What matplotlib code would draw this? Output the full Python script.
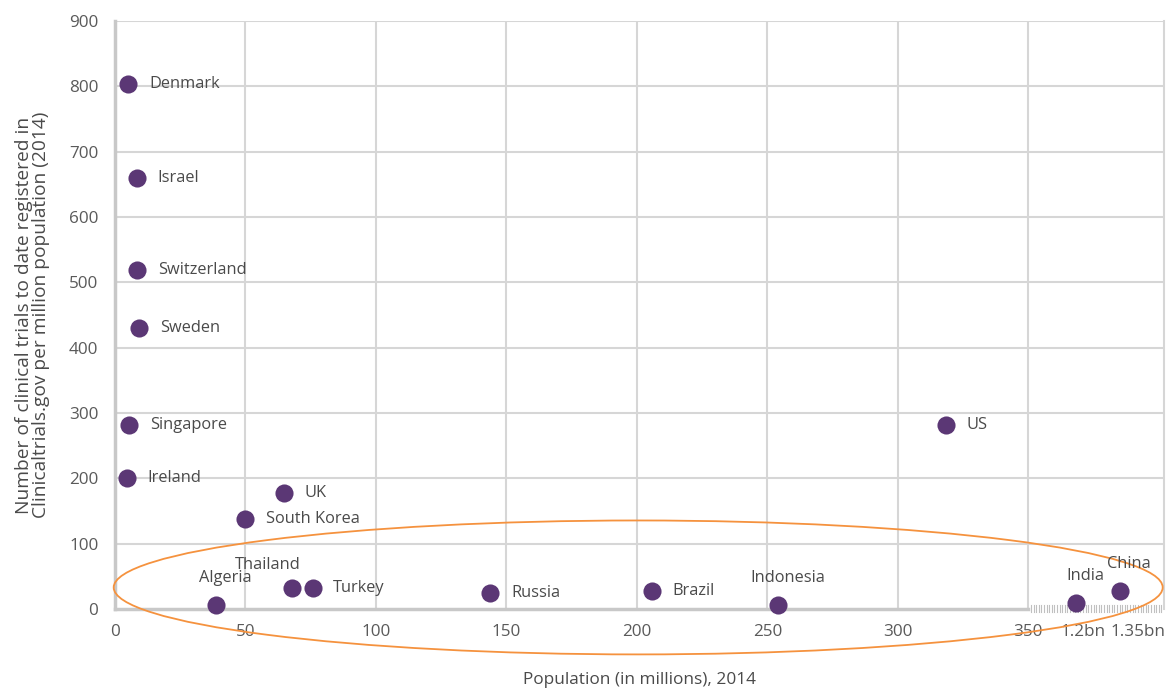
import numpy as np
import matplotlib.pyplot as plt
from matplotlib.patches import Ellipse

plt.rcParams['font.family'] = ['Open Sans', 'DejaVu Sans']

# データ（人口: 百万人, 治験数: 人口百万人あたり）
countries = ["Denmark", "Israel", "Switzerland", "Sweden", "Singapore", "Ireland",
             "UK", "South Korea", "Algeria", "Thailand", "Turkey", "Russia",
             "Brazil", "Indonesia", "US", "India", "China"]
population = [5.0, 8.4, 8.4, 9.2, 5.4, 4.6, 64.7, 49.7, 38.6, 67.7, 75.7, 143.8,
              205.8, 254, 318.3, 1180, 1300]
trials = [804, 660, 519, 430, 281, 201, 177, 137, 6, 32, 32, 24, 27, 6, 281, 9, 27]
label_pos = ["right", "right", "right", "right", "right", "right", "right", "right",
             "above", "aboveleft", "right", "right", "right", "above", "right",
             "above", "above"]

x_ticks = [0, 50, 100, 150, 200, 250, 300, 350]
bn_ticks = [1200, 1350]
bn_labels = ["1.2bn", "1.35bn"]


# 350より大きい値は圧縮した区間に配置する
def to_pos(v):
    if v <= 350:
        return v
    return 371 + (v - 1200) * 0.14


purple = "#5b3775"
grid_c = "#d6d6d6"
text_c = "#4a4a4a"

fig = plt.figure(figsize=(11.73, 6.93), dpi=100)
ax = fig.add_axes([115 / 1173, 84 / 693, (1164 - 115) / 1173, (609 - 21) / 693])
ax.set_xlim(0, 402)
ax.set_ylim(0, 900)

# グリッド
for y in range(100, 1000, 100):
    ax.axhline(y, color=grid_c, lw=1.5, zorder=1)
for x in x_ticks[1:]:
    ax.axvline(x, color=grid_c, lw=1.5, zorder=1)
ax.axvline(402, color=grid_c, lw=1.5, zorder=1, clip_on=False)
ax.plot([0, 350], [0, 0], color="#c8c8c8", lw=2.5, zorder=2, clip_on=False)
ax.plot([0, 0], [0, 900], color="#c8c8c8", lw=2.5, zorder=2, clip_on=False)

# 途切れた軸のハッチ
for hx in np.arange(351, 402, 1.0):
    ax.plot([hx, hx], [-5, 6], color="#c0c0c0", lw=0.8, zorder=2, clip_on=False)

for s in ax.spines.values():
    s.set_visible(False)

xs = [to_pos(p) for p in population]
ax.scatter(xs, trials, s=170, color=purple, zorder=4, clip_on=False, linewidths=0)

for name, x, y, lp in zip(countries, xs, trials, label_pos):
    if lp == "right":
        ax.annotate(name, (x, y), xytext=(15, 0), textcoords="offset points",
                    ha="left", va="center", fontsize=11.8, color=text_c, zorder=5)
    elif lp == "above":
        ax.annotate(name, (x, y), xytext=(7, 14), textcoords="offset points",
                    ha="center", va="bottom", fontsize=11.8, color=text_c, zorder=5)
    else:
        ax.annotate(name, (x, y), xytext=(-17, 11), textcoords="offset points",
                    ha="center", va="bottom", fontsize=11.8, color=text_c, zorder=5)

# 楕円
ell = Ellipse((200.5, 33), 402, 205, fill=False, edgecolor="#f5923e", lw=1.3,
              zorder=3, clip_on=False)
ax.add_patch(ell)

tick_pos = x_ticks + [to_pos(v) for v in bn_ticks]
tick_lab = [str(t) for t in x_ticks] + bn_labels
ax.set_xticks(tick_pos)
ax.set_xticklabels(tick_lab)
ax.set_yticks(range(0, 1000, 100))
ax.tick_params(axis="both", length=0, labelsize=12.3, labelcolor="#5a5a5a")
ax.tick_params(axis="x", pad=11)
ax.tick_params(axis="y", pad=12)

ax.set_xlabel("Population (in millions), 2014", fontsize=12.4, color=text_c, labelpad=23)
ax.set_ylabel("Number of clinical trials to date registered in\n"
              "Clinicaltrials.gov per million population (2014)",
              fontsize=13.8, color=text_c, labelpad=14, linespacing=0.9)

fig.savefig("out.png", dpi=100)
